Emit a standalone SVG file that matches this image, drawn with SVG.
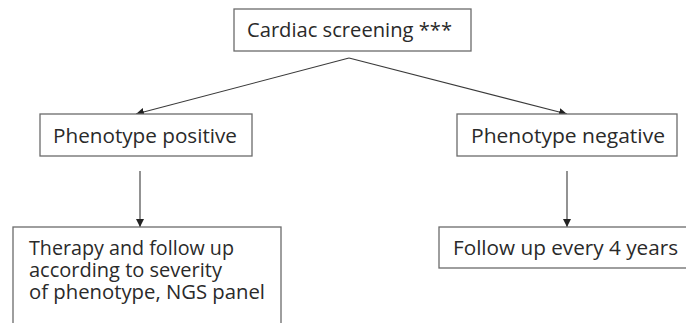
<svg xmlns="http://www.w3.org/2000/svg" width="686" height="323" viewBox="0 0 686 323">
<style>
.box{fill:#fff;stroke:#6b6b6b;stroke-width:1.3}
.t{font-family:"Open Sans","Noto Sans",sans-serif;font-size:20px;fill:#2a2a2a}
.c{stroke:#3a3a3a;stroke-width:1.1;fill:none}
</style>
<defs>
<marker id="ah" viewBox="0 0 10 10" refX="10" refY="5" markerWidth="8" markerHeight="8" markerUnits="userSpaceOnUse" orient="auto">
<path d="M0,0 L10,5 L0,10 z" fill="#222"/>
</marker>
</defs>
<rect width="686" height="323" fill="#fff"/>
<g id="connectors">
<line class="c" x1="349" y1="58" x2="136" y2="114" marker-end="url(#ah)"/>
<line class="c" x1="349" y1="58" x2="567" y2="114" marker-end="url(#ah)"/>
<line class="c" x1="140" y1="171" x2="140" y2="227" marker-end="url(#ah)"/>
<line class="c" x1="567" y1="171" x2="567" y2="227" marker-end="url(#ah)"/>
</g>
<g id="cardiac">
<rect class="box" x="234" y="9" width="237" height="42"/>
<text class="t" x="247" y="37" textLength="205" lengthAdjust="spacingAndGlyphs">Cardiac screening ***</text>
</g>
<g id="positive">
<rect class="box" x="40" y="114" width="212" height="42"/>
<text class="t" x="53" y="143" textLength="184" lengthAdjust="spacingAndGlyphs">Phenotype positive</text>
</g>
<g id="negative">
<rect class="box" x="457" y="114" width="220" height="42"/>
<text class="t" x="471" y="143" textLength="194" lengthAdjust="spacingAndGlyphs">Phenotype negative</text>
</g>
<g id="therapy">
<rect class="box" x="13" y="227" width="268" height="110"/>
<text class="t"><tspan x="29" y="255" textLength="205" lengthAdjust="spacingAndGlyphs">Therapy and follow up</tspan><tspan x="29" y="277" textLength="193" lengthAdjust="spacingAndGlyphs">according to severity</tspan><tspan x="29" y="299" textLength="236" lengthAdjust="spacingAndGlyphs">of phenotype, NGS panel</tspan></text>
</g>
<g id="followup">
<rect class="box" x="439" y="227" width="260" height="41"/>
<text class="t" x="453" y="255" textLength="225" lengthAdjust="spacingAndGlyphs">Follow up every 4 years</text>
</g>
</svg>
